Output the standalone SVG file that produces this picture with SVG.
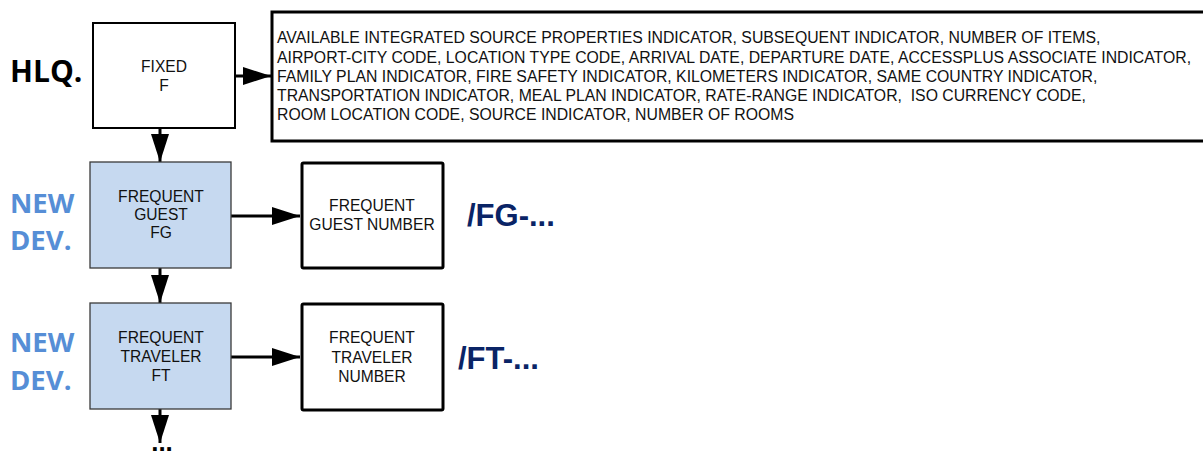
<svg xmlns="http://www.w3.org/2000/svg" width="1203" height="457" viewBox="0 0 1203 457">
<defs>
<style>
.t{font-family:"Liberation Sans",Arial,sans-serif;font-size:15.6px;fill:#111;text-anchor:middle}
.big{font-family:"Liberation Sans",Arial,sans-serif;font-size:15.8px;fill:#111}
.lbl{font-family:"Open Sans","DejaVu Sans",sans-serif;font-weight:bold;font-size:27.5px}
.code{font-family:"Liberation Sans",Arial,sans-serif;font-weight:bold;font-size:31px;fill:#0a2466}
.blue{fill:#c6d9f0;stroke:#3a3a3a;stroke-width:1.3}
.white{fill:#fff;stroke:#000;stroke-width:3}
.conn{stroke:#000;stroke-width:3;fill:none}
</style>
<marker id="ah" markerWidth="28" markerHeight="18" refX="28" refY="9" orient="auto" markerUnits="userSpaceOnUse">
<path d="M0,0 L28,9 L0,18 Z" fill="#000"/>
</marker>
</defs>
<rect width="1203" height="457" fill="#fff"/>
<g id="labels">
<text class="lbl" x="10" y="82" fill="#000" style="font-size:30px">HLQ.</text>
<text class="lbl" x="10" y="213" fill="#568ed6">NEW</text>
<text class="lbl" x="10" y="250" fill="#568ed6">DEV.</text>
<text class="lbl" x="10" y="352" fill="#568ed6">NEW</text>
<text class="lbl" x="10" y="390" fill="#568ed6">DEV.</text>
</g>
<g id="connectors">
<line class="conn" x1="235" y1="76" x2="271" y2="76" marker-end="url(#ah)"/>
<line class="conn" x1="160" y1="128" x2="160" y2="162" marker-end="url(#ah)"/>
<line class="conn" x1="231" y1="216" x2="300" y2="216" marker-end="url(#ah)"/>
<line class="conn" x1="160" y1="268" x2="160" y2="303" marker-end="url(#ah)"/>
<line class="conn" x1="231" y1="357" x2="300" y2="357" marker-end="url(#ah)"/>
<line class="conn" x1="160" y1="409" x2="160" y2="443" marker-end="url(#ah)"/>
</g>
<g id="fixed">
<rect x="93" y="23" width="142" height="105" fill="#fff" stroke="#000" stroke-width="2"/>
<text class="t" x="164" y="72">FIXED</text>
<text class="t" x="164" y="91">F</text>
</g>
<g id="fixed-fields">
<rect x="272" y="12" width="940" height="129" class="white"/>
<text class="big" x="277" y="43">AVAILABLE INTEGRATED SOURCE PROPERTIES INDICATOR, SUBSEQUENT INDICATOR, NUMBER OF ITEMS,</text>
<text class="big" x="277" y="63">AIRPORT-CITY CODE, LOCATION TYPE CODE, ARRIVAL DATE, DEPARTURE DATE, ACCESSPLUS ASSOCIATE INDICATOR,</text>
<text class="big" x="277" y="82">FAMILY PLAN INDICATOR, FIRE SAFETY INDICATOR, KILOMETERS INDICATOR, SAME COUNTRY INDICATOR,</text>
<text class="big" x="277" y="101" xml:space="preserve">TRANSPORTATION INDICATOR, MEAL PLAN INDICATOR, RATE-RANGE INDICATOR,  ISO CURRENCY CODE,</text>
<text class="big" x="277" y="120">ROOM LOCATION CODE, SOURCE INDICATOR, NUMBER OF ROOMS</text>
</g>
<g id="fg">
<rect x="90" y="162" width="141" height="106" class="blue"/>
<text class="t" x="161" y="202">FREQUENT</text>
<text class="t" x="161" y="220">GUEST</text>
<text class="t" x="161" y="238">FG</text>
</g>
<g id="fg-number">
<rect x="302" y="163" width="141" height="105" rx="1.5" class="white"/>
<text class="t" x="372" y="211">FREQUENT</text>
<text class="t" x="372" y="230">GUEST NUMBER</text>
<text class="code" x="467" y="226">/FG-...</text>
</g>
<g id="ft">
<rect x="90" y="303" width="141" height="106" class="blue"/>
<text class="t" x="161" y="343">FREQUENT</text>
<text class="t" x="161" y="362">TRAVELER</text>
<text class="t" x="161" y="381">FT</text>
</g>
<g id="ft-number">
<rect x="302" y="304" width="141" height="106" rx="1.5" class="white"/>
<text class="t" x="372" y="343">FREQUENT</text>
<text class="t" x="372" y="363">TRAVELER</text>
<text class="t" x="372" y="382">NUMBER</text>
<text class="code" x="458" y="369">/FT-...</text>
</g>
<g id="more">
<text x="162" y="451" text-anchor="middle" font-family="Liberation Sans,Arial,sans-serif" font-weight="bold" font-size="26" fill="#000">...</text>
</g>
</svg>
